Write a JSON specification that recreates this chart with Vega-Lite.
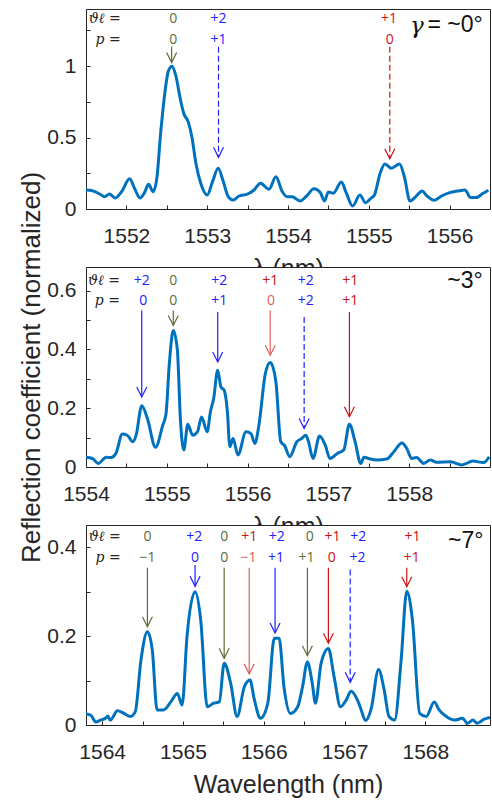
{
  "$schema": "https://vega.github.io/schema/vega-lite/v6.json",
  "background": "white",
  "padding": {"left": 18, "top": 8, "right": 2, "bottom": 0},
  "bounds": "flush",
  "spacing": 58,
  "config": {
    "view": {"stroke": "#262626", "strokeWidth": 1, "fill": "white"},
    "axis": {"grid": false, "zindex": 1, "domainColor": "#262626", "tickColor": "#262626", "labelColor": "#262626", "titleColor": "#262626", "labelFont": "Liberation Sans", "titleFont": "Liberation Sans", "labelFontSize": 21, "titleFontSize": 25, "titleFontWeight": "normal", "tickSize": -4, "domainWidth": 1, "tickWidth": 1, "labelFlush": false, "labelOverlap": false}
  },
  "vconcat": [
    {
      "width": 404, "height": 200,
      "resolve": {"axis": {"x": "independent", "y": "independent"}},
      "layer": [
        {
          "data": {"values": [
            {"wl":1551.50,"r":0.133},{"wl":1551.58,"r":0.128},{"wl":1551.67,"r":0.105},{"wl":1551.73,"r":0.086},{"wl":1551.79,"r":0.105},{"wl":1551.86,"r":0.077},{"wl":1551.94,"r":0.121},{"wl":1552.04,"r":0.212},{"wl":1552.10,"r":0.145},{"wl":1552.17,"r":0.077},{"wl":1552.22,"r":0.11},{"wl":1552.275,"r":0.173},{"wl":1552.33,"r":0.121},{"wl":1552.379,"r":0.226},{"wl":1552.42,"r":0.506},{"wl":1552.47,"r":0.785},{"wl":1552.52,"r":0.967},{"wl":1552.565,"r":1.0},{"wl":1552.61,"r":0.937},{"wl":1552.67,"r":0.762},{"wl":1552.71,"r":0.669},{"wl":1552.765,"r":0.61},{"wl":1552.81,"r":0.506},{"wl":1552.86,"r":0.32},{"wl":1552.92,"r":0.18},{"wl":1553.00,"r":0.098},{"wl":1553.065,"r":0.19},{"wl":1553.136,"r":0.285},{"wl":1553.20,"r":0.19},{"wl":1553.26,"r":0.086},{"wl":1553.32,"r":0.063},{"wl":1553.395,"r":0.091},{"wl":1553.50,"r":0.105},{"wl":1553.58,"r":0.133},{"wl":1553.66,"r":0.18},{"wl":1553.765,"r":0.138},{"wl":1553.85,"r":0.226},{"wl":1553.93,"r":0.121},{"wl":1553.99,"r":0.086},{"wl":1554.05,"r":0.086},{"wl":1554.15,"r":0.056},{"wl":1554.23,"r":0.091},{"wl":1554.32,"r":0.142},{"wl":1554.40,"r":0.115},{"wl":1554.45,"r":0.056},{"wl":1554.50,"r":0.119},{"wl":1554.56,"r":0.110},{"wl":1554.66,"r":0.189},{"wl":1554.72,"r":0.115},{"wl":1554.80,"r":0.021},{"wl":1554.89,"r":0.098},{"wl":1554.96,"r":0.044},{"wl":1555.025,"r":0.075},{"wl":1555.07,"r":0.098},{"wl":1555.14,"r":0.25},{"wl":1555.20,"r":0.315},{"wl":1555.28,"r":0.285},{"wl":1555.38,"r":0.315},{"wl":1555.44,"r":0.226},{"wl":1555.51,"r":0.056},{"wl":1555.58,"r":0.086},{"wl":1555.66,"r":0.126},{"wl":1555.72,"r":0.091},{"wl":1555.81,"r":0.061},{"wl":1555.90,"r":0.091},{"wl":1556.00,"r":0.115},{"wl":1556.10,"r":0.126},{"wl":1556.19,"r":0.133},{"wl":1556.26,"r":0.080},{"wl":1556.33,"r":0.080},{"wl":1556.41,"r":0.108},{"wl":1556.48,"r":0.131}
          ]},
          "mark": {"type": "line", "color": "#0072BD", "strokeWidth": 3, "interpolate": "monotone", "clip": true},
          "encoding": {
            "x": {"field": "wl", "type": "quantitative", "scale": {"domain": [1551.5, 1556.5], "nice": false, "zero": false},
                  "axis": {"orient": "bottom", "values": [1552,1552.5,1553,1553.5,1554,1554.5,1555,1555.5,1556], "labelExpr": "datum.value % 1 === 0 ? format(datum.value, 'd') : ''", "title": "λ (nm)", "labelPadding": 20, "titlePadding": 10}},
            "y": {"field": "r", "type": "quantitative", "scale": {"domain": [0, 1.4], "nice": false},
                  "axis": {"orient": "left", "values": [0,0.25,0.5,0.75,1,1.25], "labelExpr": "datum.value % 0.5 === 0 ? format(datum.value, '~g') : ''", "title": null, "labelPadding": 14}}
          }
        },
        {
          "data": {"values": [
            {"wl":1552.56,"top":1.135,"tip":1.025,"g":"green","k":"solid"},
            {"wl":1553.14,"top":1.135,"tip":0.362,"g":"blue","k":"dashed"},
            {"wl":1555.26,"top":1.135,"tip":0.352,"g":"red","k":"dashed"}
          ]},
          "layer": [
            {
              "mark": {"type": "rule", "strokeWidth": 1.2},
              "encoding": {
                "x": {"field": "wl", "type": "quantitative", "axis": {"orient": "top", "values": [1552,1552.5,1553,1553.5,1554,1554.5,1555,1555.5,1556], "labels": false, "title": null}},
                "y": {"field": "top", "type": "quantitative", "axis": {"orient": "right", "values": [0,0.25,0.5,0.75,1,1.25], "labels": false, "title": null}},
                "y2": {"field": "tip"},
                "color": {"field": "g", "type": "nominal", "scale": {"domain": ["green","blue","red","lightred","dark"], "range": ["#5b6e35","#2020ff","#cc1111","#e06060","#262626"]}, "legend": null},
                "strokeDash": {"field": "k", "type": "nominal", "scale": {"domain": ["solid","dashed"], "range": [[1,0],[6,3]]}, "legend": null}
              }
            },
            {
              "mark": {"type": "point", "shape": "M-0.5,-1L0,0L0.5,-1", "filled": false, "size": 400, "strokeWidth": 1.2, "opacity": 1},
              "encoding": {
                "x": {"field": "wl", "type": "quantitative", "axis": null},
                "y": {"field": "tip", "type": "quantitative", "axis": null},
                "color": {"field": "g", "type": "nominal", "scale": {"domain": ["green","blue","red","lightred","dark"], "range": ["#5b6e35","#2020ff","#cc1111","#e06060","#262626"]}, "legend": null}
              }
            }
          ]
        },
        {
          "data": {"values": [
            {"wl":1552.58,"y":1.329,"t":"0","g":"green"},{"wl":1552.58,"y":1.182,"t":"0","g":"green"},
            {"wl":1553.14,"y":1.329,"t":"+2","g":"blue"},{"wl":1553.14,"y":1.182,"t":"+1","g":"blue"},
            {"wl":1555.25,"y":1.329,"t":"+1","g":"red"},{"wl":1555.26,"y":1.182,"t":"0","g":"red"}
          ]},
          "mark": {"type": "text", "font": "Open Sans", "fontSize": 14, "baseline": "middle"},
          "encoding": {
            "x": {"field": "wl", "type": "quantitative", "axis": null},
            "y": {"field": "y", "type": "quantitative", "axis": null},
            "text": {"field": "t"},
            "color": {"field": "g", "type": "nominal", "scale": {"domain": ["green","blue","red","lightred","dark"], "range": ["#5b6e35","#2020ff","#cc1111","#e06060","#262626"]}, "legend": null}
          }
        },
        {
          "data": {"values": [{"wl":1551.93,"y":1.329,"t":"ϑℓ ="},{"wl":1551.93,"y":1.182,"t":"p ="}]},
          "mark": {"type": "text", "font": "DejaVu Serif", "fontStyle": "italic", "fontSize": 14, "align": "right", "baseline": "middle", "color": "#262626"},
          "encoding": {
            "x": {"field": "wl", "type": "quantitative", "axis": null},
            "y": {"field": "y", "type": "quantitative", "axis": null},
            "text": {"field": "t"}
          }
        },
        {
          "data": {"values": [{"wl":1555.68,"y":1.28,"t":"γ"}]},
          "mark": {"type": "text", "font": "DejaVu Serif", "fontStyle": "italic", "fontSize": 23, "align": "right", "baseline": "middle", "color": "#111111"},
          "encoding": {
            "x": {"field": "wl", "type": "quantitative", "axis": null},
            "y": {"field": "y", "type": "quantitative", "axis": null},
            "text": {"field": "t"}
          }
        },
        {
          "data": {"values": [{"wl":1556.41,"y":1.287,"t":"= ~0°"}]},
          "mark": {"type": "text", "font": "Liberation Sans", "fontSize": 23, "align": "right", "baseline": "middle", "color": "#111111"},
          "encoding": {
            "x": {"field": "wl", "type": "quantitative", "axis": null},
            "y": {"field": "y", "type": "quantitative", "axis": null},
            "text": {"field": "t"}
          }
        }
      ]
    },
    {
      "width": 404, "height": 200,
      "resolve": {"axis": {"x": "independent", "y": "independent"}},
      "layer": [
        {
          "data": {"values": [
            {"wl":1554.00,"r":0.033},{"wl":1554.08,"r":0.029},{"wl":1554.15,"r":0.012},{"wl":1554.25,"r":0.033},{"wl":1554.31,"r":0.032},{"wl":1554.37,"r":0.046},{"wl":1554.45,"r":0.112},{"wl":1554.51,"r":0.108},{"wl":1554.58,"r":0.086},{"wl":1554.62,"r":0.108},{"wl":1554.69,"r":0.208},{"wl":1554.76,"r":0.165},{"wl":1554.86,"r":0.067},{"wl":1554.95,"r":0.142},{"wl":1554.99,"r":0.18},{"wl":1555.03,"r":0.346},{"wl":1555.08,"r":0.464},{"wl":1555.13,"r":0.40},{"wl":1555.17,"r":0.154},{"wl":1555.21,"r":0.058},{"wl":1555.26,"r":0.145},{"wl":1555.32,"r":0.108},{"wl":1555.38,"r":0.12},{"wl":1555.43,"r":0.17},{"wl":1555.50,"r":0.12},{"wl":1555.54,"r":0.188},{"wl":1555.58,"r":0.233},{"wl":1555.63,"r":0.329},{"wl":1555.67,"r":0.272},{"wl":1555.71,"r":0.261},{"wl":1555.75,"r":0.188},{"wl":1555.78,"r":0.069},{"wl":1555.82,"r":0.097},{"wl":1555.88,"r":0.041},{"wl":1555.98,"r":0.12},{"wl":1556.04,"r":0.114},{"wl":1556.09,"r":0.08},{"wl":1556.14,"r":0.142},{"wl":1556.22,"r":0.318},{"wl":1556.28,"r":0.355},{"wl":1556.35,"r":0.29},{"wl":1556.41,"r":0.086},{"wl":1556.46,"r":0.072},{"wl":1556.52,"r":0.035},{"wl":1556.61,"r":0.086},{"wl":1556.67,"r":0.097},{"wl":1556.72,"r":0.108},{"wl":1556.75,"r":0.09},{"wl":1556.81,"r":0.029},{"wl":1556.89,"r":0.105},{"wl":1556.96,"r":0.075},{"wl":1557.02,"r":0.029},{"wl":1557.11,"r":0.046},{"wl":1557.19,"r":0.058},{"wl":1557.26,"r":0.145},{"wl":1557.33,"r":0.086},{"wl":1557.40,"r":0.012},{"wl":1557.44,"r":0.033},{"wl":1557.52,"r":0.027},{"wl":1557.60,"r":0.024},{"wl":1557.72,"r":0.027},{"wl":1557.81,"r":0.052},{"wl":1557.91,"r":0.082},{"wl":1557.97,"r":0.063},{"wl":1558.03,"r":0.029},{"wl":1558.09,"r":0.032},{"wl":1558.18,"r":0.012},{"wl":1558.26,"r":0.024},{"wl":1558.34,"r":0.016},{"wl":1558.51,"r":0.018},{"wl":1558.65,"r":0.007},{"wl":1558.79,"r":0.02},{"wl":1558.92,"r":0.015},{"wl":1558.99,"r":0.035}
          ]},
          "mark": {"type": "line", "color": "#0072BD", "strokeWidth": 3, "interpolate": "monotone", "clip": true},
          "encoding": {
            "x": {"field": "wl", "type": "quantitative", "scale": {"domain": [1554, 1559], "nice": false, "zero": false},
                  "axis": {"orient": "bottom", "values": [1554,1554.5,1555,1555.5,1556,1556.5,1557,1557.5,1558,1558.5], "labelExpr": "datum.value % 1 === 0 ? format(datum.value, 'd') : ''", "title": "λ (nm)", "labelPadding": 20, "titlePadding": 10}},
            "y": {"field": "r", "type": "quantitative", "scale": {"domain": [0, 0.68], "nice": false},
                  "axis": {"orient": "left", "values": [0,0.1,0.2,0.3,0.4,0.5,0.6], "labelExpr": "round(datum.value * 10) % 2 === 0 ? format(datum.value, '~g') : ''", "title": "Reflection coefficient (normalized)", "titleFontSize": 26, "labelPadding": 14, "titlePadding": 2}}
          }
        },
        {
          "data": {"values": [
            {"wl":1554.69,"top":0.532,"tip":0.238,"g":"blue","k":"solid"},
            {"wl":1555.08,"top":0.532,"tip":0.481,"g":"green","k":"solid"},
            {"wl":1555.63,"top":0.527,"tip":0.357,"g":"blue","k":"solid"},
            {"wl":1556.28,"top":0.532,"tip":0.38,"g":"lightred","k":"solid"},
            {"wl":1556.70,"top":0.51,"tip":0.131,"g":"blue","k":"dashed"},
            {"wl":1557.26,"top":0.527,"tip":0.171,"g":"red","k":"solid"}
          ]},
          "layer": [
            {
              "mark": {"type": "rule", "strokeWidth": 1.2},
              "encoding": {
                "x": {"field": "wl", "type": "quantitative", "axis": {"orient": "top", "values": [1554,1554.5,1555,1555.5,1556,1556.5,1557,1557.5,1558,1558.5], "labels": false, "title": null}},
                "y": {"field": "top", "type": "quantitative", "axis": {"orient": "right", "values": [0,0.1,0.2,0.3,0.4,0.5,0.6], "labels": false, "title": null}},
                "y2": {"field": "tip"},
                "color": {"field": "g", "type": "nominal", "scale": {"domain": ["green","blue","red","lightred","dark"], "range": ["#5b6e35","#2020ff","#cc1111","#e06060","#262626"]}, "legend": null},
                "strokeDash": {"field": "k", "type": "nominal", "scale": {"domain": ["solid","dashed"], "range": [[1,0],[6,3]]}, "legend": null}
              }
            },
            {
              "mark": {"type": "point", "shape": "M-0.5,-1L0,0L0.5,-1", "filled": false, "size": 400, "strokeWidth": 1.2, "opacity": 1},
              "encoding": {
                "x": {"field": "wl", "type": "quantitative", "axis": null},
                "y": {"field": "tip", "type": "quantitative", "axis": null},
                "color": {"field": "g", "type": "nominal", "scale": {"domain": ["green","blue","red","lightred","dark"], "range": ["#5b6e35","#2020ff","#cc1111","#e06060","#262626"]}, "legend": null}
              }
            }
          ]
        },
        {
          "data": {"values": [
            {"wl":1554.69,"y":0.634,"t":"+2","g":"blue"},{"wl":1554.71,"y":0.566,"t":"0","g":"blue"},
            {"wl":1555.08,"y":0.634,"t":"0","g":"green"},{"wl":1555.08,"y":0.566,"t":"0","g":"green"},
            {"wl":1555.65,"y":0.634,"t":"+2","g":"blue"},{"wl":1555.65,"y":0.566,"t":"+1","g":"blue"},
            {"wl":1556.28,"y":0.634,"t":"+1","g":"red"},{"wl":1556.29,"y":0.566,"t":"0","g":"lightred"},
            {"wl":1556.72,"y":0.634,"t":"+2","g":"blue"},{"wl":1556.72,"y":0.566,"t":"+2","g":"blue"},
            {"wl":1557.27,"y":0.634,"t":"+1","g":"red"},{"wl":1557.27,"y":0.566,"t":"+1","g":"red"}
          ]},
          "mark": {"type": "text", "font": "Open Sans", "fontSize": 14, "baseline": "middle"},
          "encoding": {
            "x": {"field": "wl", "type": "quantitative", "axis": null},
            "y": {"field": "y", "type": "quantitative", "axis": null},
            "text": {"field": "t"},
            "color": {"field": "g", "type": "nominal", "scale": {"domain": ["green","blue","red","lightred","dark"], "range": ["#5b6e35","#2020ff","#cc1111","#e06060","#262626"]}, "legend": null}
          }
        },
        {
          "data": {"values": [{"wl":1554.42,"y":0.634,"t":"ϑℓ ="},{"wl":1554.42,"y":0.566,"t":"p ="}]},
          "mark": {"type": "text", "font": "DejaVu Serif", "fontStyle": "italic", "fontSize": 14, "align": "right", "baseline": "middle", "color": "#262626"},
          "encoding": {
            "x": {"field": "wl", "type": "quantitative", "axis": null},
            "y": {"field": "y", "type": "quantitative", "axis": null},
            "text": {"field": "t"}
          }
        },
        {
          "data": {"values": [{"wl":1558.91,"y":0.634,"t":"~3°"}]},
          "mark": {"type": "text", "font": "Liberation Sans", "fontSize": 23, "align": "right", "baseline": "middle", "color": "#111111"},
          "encoding": {
            "x": {"field": "wl", "type": "quantitative", "axis": null},
            "y": {"field": "y", "type": "quantitative", "axis": null},
            "text": {"field": "t"}
          }
        }
      ]
    },
    {
      "width": 404, "height": 200,
      "resolve": {"axis": {"x": "independent", "y": "independent"}},
      "layer": [
        {
          "data": {"values": [
            {"wl":1563.80,"r":0.025},{"wl":1563.86,"r":0.022},{"wl":1563.92,"r":0.007},{"wl":1563.98,"r":0.011},{"wl":1564.04,"r":0.015},{"wl":1564.07,"r":0.02},{"wl":1564.10,"r":0.011},{"wl":1564.19,"r":0.032},{"wl":1564.27,"r":0.026},{"wl":1564.35,"r":0.019},{"wl":1564.41,"r":0.03},{"wl":1564.48,"r":0.146},{"wl":1564.56,"r":0.21},{"wl":1564.62,"r":0.169},{"wl":1564.68,"r":0.034},{"wl":1564.76,"r":0.034},{"wl":1564.85,"r":0.052},{"wl":1564.93,"r":0.071},{"wl":1564.99,"r":0.045},{"wl":1565.05,"r":0.199},{"wl":1565.15,"r":0.30},{"wl":1565.22,"r":0.236},{"wl":1565.30,"r":0.041},{"wl":1565.38,"r":0.049},{"wl":1565.45,"r":0.052},{"wl":1565.51,"r":0.139},{"wl":1565.59,"r":0.094},{"wl":1565.67,"r":0.019},{"wl":1565.76,"r":0.086},{"wl":1565.83,"r":0.101},{"wl":1565.88,"r":0.06},{"wl":1565.96,"r":0.015},{"wl":1566.05,"r":0.049},{"wl":1566.13,"r":0.195},{"wl":1566.19,"r":0.195},{"wl":1566.25,"r":0.086},{"wl":1566.33,"r":0.026},{"wl":1566.42,"r":0.041},{"wl":1566.48,"r":0.086},{"wl":1566.54,"r":0.142},{"wl":1566.60,"r":0.094},{"wl":1566.64,"r":0.049},{"wl":1566.71,"r":0.139},{"wl":1566.80,"r":0.172},{"wl":1566.87,"r":0.109},{"wl":1566.95,"r":0.041},{"wl":1567.02,"r":0.056},{"wl":1567.08,"r":0.076},{"wl":1567.16,"r":0.056},{"wl":1567.20,"r":0.037},{"wl":1567.26,"r":0.01},{"wl":1567.33,"r":0.037},{"wl":1567.42,"r":0.125},{"wl":1567.49,"r":0.079},{"wl":1567.55,"r":0.019},{"wl":1567.62,"r":0.011},{"wl":1567.70,"r":0.146},{"wl":1567.77,"r":0.301},{"wl":1567.84,"r":0.236},{"wl":1567.93,"r":0.026},{"wl":1568.01,"r":0.019},{"wl":1568.11,"r":0.052},{"wl":1568.17,"r":0.034},{"wl":1568.26,"r":0.019},{"wl":1568.36,"r":0.011},{"wl":1568.46,"r":0.015},{"wl":1568.52,"r":0.004},{"wl":1568.59,"r":0.011},{"wl":1568.64,"r":0.004},{"wl":1568.73,"r":0.013},{"wl":1568.80,"r":0.017}
          ]},
          "mark": {"type": "line", "color": "#0072BD", "strokeWidth": 3, "interpolate": "monotone", "clip": true},
          "encoding": {
            "x": {"field": "wl", "type": "quantitative", "scale": {"domain": [1563.8, 1568.8], "nice": false, "zero": false},
                  "axis": {"orient": "bottom", "values": [1564,1564.5,1565,1565.5,1566,1566.5,1567,1567.5,1568,1568.5], "labelExpr": "datum.value % 1 === 0 ? format(datum.value, 'd') : ''", "title": "Wavelength (nm)", "labelPadding": 20, "titlePadding": 10}},
            "y": {"field": "r", "type": "quantitative", "scale": {"domain": [0, 0.45], "nice": false},
                  "axis": {"orient": "left", "values": [0,0.1,0.2,0.3,0.4], "labelExpr": "round(datum.value * 10) % 2 === 0 ? format(datum.value, '~g') : ''", "title": null, "labelPadding": 14}}
          }
        },
        {
          "data": {"values": [
            {"wl":1564.56,"top":0.354,"tip":0.221,"g":"green","k":"solid"},
            {"wl":1565.15,"top":0.36,"tip":0.312,"g":"blue","k":"solid"},
            {"wl":1565.51,"top":0.354,"tip":0.150,"g":"green","k":"solid"},
            {"wl":1565.82,"top":0.354,"tip":0.115,"g":"lightred","k":"solid"},
            {"wl":1566.14,"top":0.354,"tip":0.207,"g":"blue","k":"solid"},
            {"wl":1566.54,"top":0.354,"tip":0.156,"g":"green","k":"solid"},
            {"wl":1566.80,"top":0.354,"tip":0.184,"g":"red","k":"solid"},
            {"wl":1567.07,"top":0.35,"tip":0.096,"g":"blue","k":"dashed"},
            {"wl":1567.77,"top":0.354,"tip":0.311,"g":"red","k":"solid"}
          ]},
          "layer": [
            {
              "mark": {"type": "rule", "strokeWidth": 1.2},
              "encoding": {
                "x": {"field": "wl", "type": "quantitative", "axis": {"orient": "top", "values": [1564,1564.5,1565,1565.5,1566,1566.5,1567,1567.5,1568,1568.5], "labels": false, "title": null}},
                "y": {"field": "top", "type": "quantitative", "axis": {"orient": "right", "values": [0,0.1,0.2,0.3,0.4], "labels": false, "title": null}},
                "y2": {"field": "tip"},
                "color": {"field": "g", "type": "nominal", "scale": {"domain": ["green","blue","red","lightred","dark"], "range": ["#5b6e35","#2020ff","#cc1111","#e06060","#262626"]}, "legend": null},
                "strokeDash": {"field": "k", "type": "nominal", "scale": {"domain": ["solid","dashed"], "range": [[1,0],[6,3]]}, "legend": null}
              }
            },
            {
              "mark": {"type": "point", "shape": "M-0.5,-1L0,0L0.5,-1", "filled": false, "size": 400, "strokeWidth": 1.2, "opacity": 1},
              "encoding": {
                "x": {"field": "wl", "type": "quantitative", "axis": null},
                "y": {"field": "tip", "type": "quantitative", "axis": null},
                "color": {"field": "g", "type": "nominal", "scale": {"domain": ["green","blue","red","lightred","dark"], "range": ["#5b6e35","#2020ff","#cc1111","#e06060","#262626"]}, "legend": null}
              }
            }
          ]
        },
        {
          "data": {"values": [
            {"wl":1564.56,"y":0.422,"t":"0","g":"green"},{"wl":1564.56,"y":0.375,"t":"−1","g":"green"},
            {"wl":1565.14,"y":0.422,"t":"+2","g":"blue"},{"wl":1565.15,"y":0.375,"t":"0","g":"blue"},
            {"wl":1565.51,"y":0.422,"t":"0","g":"green"},{"wl":1565.51,"y":0.375,"t":"0","g":"green"},
            {"wl":1565.82,"y":0.422,"t":"+1","g":"red"},{"wl":1565.81,"y":0.375,"t":"−1","g":"lightred"},
            {"wl":1566.16,"y":0.422,"t":"+2","g":"blue"},{"wl":1566.15,"y":0.375,"t":"+1","g":"blue"},
            {"wl":1566.57,"y":0.422,"t":"0","g":"green"},{"wl":1566.53,"y":0.375,"t":"+1","g":"green"},
            {"wl":1566.85,"y":0.422,"t":"+1","g":"red"},{"wl":1566.84,"y":0.375,"t":"0","g":"red"},
            {"wl":1567.17,"y":0.422,"t":"+2","g":"blue"},{"wl":1567.16,"y":0.375,"t":"+2","g":"blue"},
            {"wl":1567.84,"y":0.422,"t":"+1","g":"red"},{"wl":1567.83,"y":0.375,"t":"+1","g":"red"}
          ]},
          "mark": {"type": "text", "font": "Open Sans", "fontSize": 14, "baseline": "middle"},
          "encoding": {
            "x": {"field": "wl", "type": "quantitative", "axis": null},
            "y": {"field": "y", "type": "quantitative", "axis": null},
            "text": {"field": "t"},
            "color": {"field": "g", "type": "nominal", "scale": {"domain": ["green","blue","red","lightred","dark"], "range": ["#5b6e35","#2020ff","#cc1111","#e06060","#262626"]}, "legend": null}
          }
        },
        {
          "data": {"values": [{"wl":1564.23,"y":0.422,"t":"ϑℓ ="},{"wl":1564.23,"y":0.375,"t":"p ="}]},
          "mark": {"type": "text", "font": "DejaVu Serif", "fontStyle": "italic", "fontSize": 14, "align": "right", "baseline": "middle", "color": "#262626"},
          "encoding": {
            "x": {"field": "wl", "type": "quantitative", "axis": null},
            "y": {"field": "y", "type": "quantitative", "axis": null},
            "text": {"field": "t"}
          }
        },
        {
          "data": {"values": [{"wl":1568.72,"y":0.413,"t":"~7°"}]},
          "mark": {"type": "text", "font": "Liberation Sans", "fontSize": 23, "align": "right", "baseline": "middle", "color": "#111111"},
          "encoding": {
            "x": {"field": "wl", "type": "quantitative", "axis": null},
            "y": {"field": "y", "type": "quantitative", "axis": null},
            "text": {"field": "t"}
          }
        }
      ]
    }
  ]
}
